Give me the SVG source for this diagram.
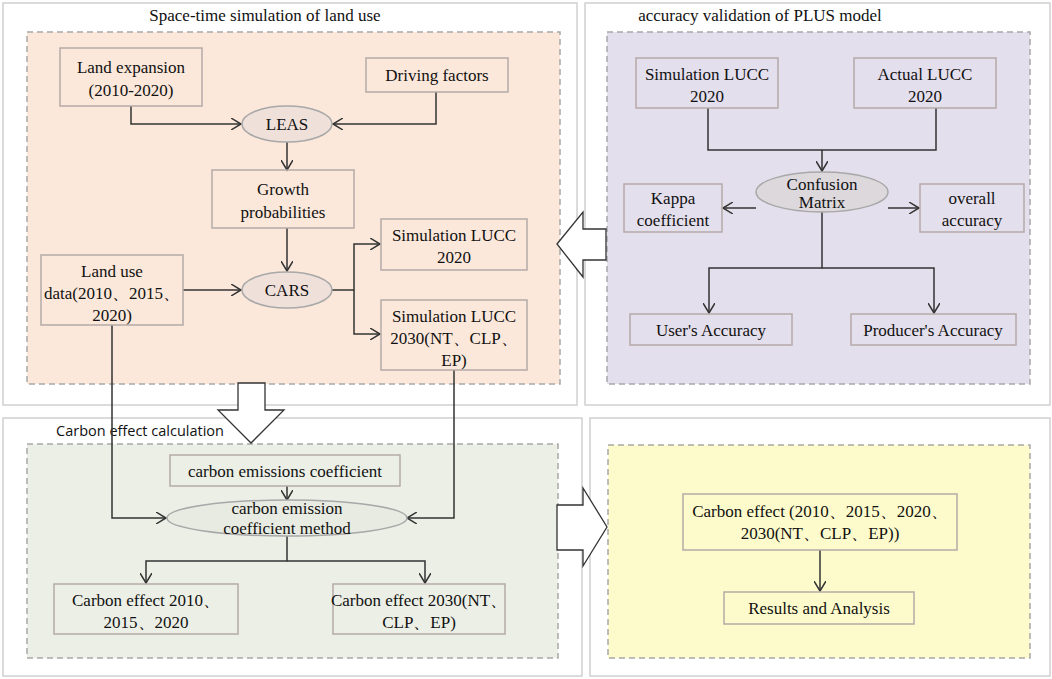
<svg xmlns="http://www.w3.org/2000/svg" width="1052" height="679" viewBox="0 0 1052 679">
<defs>
<style>
.panel{fill:#fff;stroke:#d0d0d0;stroke-width:1.5}
.dash{stroke:#a8a8a8;stroke-width:1.5;stroke-dasharray:6,4}
.n{fill:none;stroke:#b5aaa8;stroke-width:1.5}
.e{stroke:#a8a8a8;stroke-width:1.5}
text{font-family:"Liberation Serif","Times New Roman",serif;font-size:17px;fill:#111;text-anchor:middle}
.c{fill:none;stroke:#333;stroke-width:1.5}
.big{fill:#fff;stroke:#333;stroke-width:1.3}
</style>
<marker id="a" markerWidth="12" markerHeight="12" refX="10" refY="6" orient="auto" markerUnits="userSpaceOnUse"><path d="M0,0 L10,6 L0,12" fill="none" stroke="#333" stroke-width="1.5"/></marker>
</defs>
<rect class="panel" x="3" y="3" width="574" height="402"/>
<rect class="panel" x="585" y="3" width="465" height="402"/>
<rect class="panel" x="3" y="418" width="579" height="258"/>
<rect class="panel" x="590" y="418" width="460" height="258"/>
<rect class="dash" x="27" y="32" width="533" height="352" fill="#fbe8da"/>
<rect class="dash" x="607" y="32" width="423" height="352" fill="#e4dfec"/>
<rect class="dash" x="27" y="444" width="531" height="214" fill="#ecefe6"/>
<rect class="dash" x="608" y="445" width="422" height="213" fill="#fdfbcb"/>
<text x="265" y="21">Space-time simulation of land use</text>
<text x="760" y="21">accuracy validation of PLUS model</text>
<text x="140" y="436" style="font-family:'Open Sans','Liberation Sans',sans-serif;font-size:14.5px">Carbon effect calculation</text>
<g id="connectors">
<path class="c" d="M131,106 V124 H241" marker-end="url(#a)"/>
<path class="c" d="M436,92 V124 H333" marker-end="url(#a)"/>
<path class="c" d="M287,142 V170" marker-end="url(#a)"/>
<path class="c" d="M287,228 V271" marker-end="url(#a)"/>
<path class="c" d="M183,290 H241" marker-end="url(#a)"/>
<path class="c" d="M331,290 H354 V244 H380" marker-end="url(#a)"/>
<path class="c" d="M354,290 V334 H380" marker-end="url(#a)"/>
<path class="c" d="M112,325 V518 H166" marker-end="url(#a)"/>
<path class="c" d="M454,370 V518 H407" marker-end="url(#a)"/>
<path class="c" d="M708,108 V150 H936 V108"/>
<path class="c" d="M822,150 V171" marker-end="url(#a)"/>
<path class="c" d="M756,208 H723" marker-end="url(#a)"/>
<path class="c" d="M888,208 H919" marker-end="url(#a)"/>
<path class="c" d="M822,212 V268 H709 V313" marker-end="url(#a)"/>
<path class="c" d="M822,268 H934 V313" marker-end="url(#a)"/>
<path class="c" d="M287,486 V500" marker-end="url(#a)"/>
<path class="c" d="M287,536 V561 H146 V583" marker-end="url(#a)"/>
<path class="c" d="M287,561 H425 V583" marker-end="url(#a)"/>
<path class="c" d="M820,550 V591" marker-end="url(#a)"/>
<path class="big" d="M557,244 L583,212 V229 H606 V260 H583 V277 Z"/>
<path class="big" d="M238,383 H265 V410 H284 L251,443 L218,410 H238 Z"/>
<path class="big" d="M557,505 H583 V488 L607,527 L583,566 V550 H557 Z"/>
</g>
<g id="landexp"><rect class="n" x="60" y="48" width="142" height="58"/><text x="131" y="73">Land expansion</text><text x="131" y="96">(2010-2020)</text></g>
<g id="driving"><rect class="n" x="366" y="58" width="142" height="34"/><text x="437" y="81">Driving factors</text></g>
<g id="leas"><ellipse class="e" cx="287" cy="124" rx="45" ry="18" fill="#efe0da"/><text x="287" y="130">LEAS</text></g>
<g id="growth"><rect class="n" x="212" y="170" width="142" height="58"/><text x="283" y="195">Growth</text><text x="283" y="218">probabilities</text></g>
<g id="cars"><ellipse class="e" cx="287" cy="290" rx="45" ry="18" fill="#efe0da"/><text x="287" y="296">CARS</text></g>
<g id="landuse"><rect class="n" x="41" y="255" width="142" height="70"/><text x="112" y="277">Land use</text><text x="112" y="299">data(2010、2015、</text><text x="112" y="321">2020)</text></g>
<g id="sim2020"><rect class="n" x="381" y="219" width="146" height="51"/><text x="454" y="241">Simulation LUCC</text><text x="454" y="263">2020</text></g>
<g id="sim2030"><rect class="n" x="381" y="300" width="146" height="70"/><text x="454" y="322">Simulation LUCC</text><text x="454" y="344">2030(NT、CLP、</text><text x="454" y="366">EP)</text></g>
<g id="simr"><rect class="n" x="636" y="58" width="142" height="50"/><text x="707" y="80">Simulation LUCC</text><text x="707" y="102">2020</text></g>
<g id="actual"><rect class="n" x="854" y="58" width="142" height="50"/><text x="925" y="80">Actual LUCC</text><text x="925" y="102">2020</text></g>
<g id="confusion"><ellipse class="e" cx="822" cy="192" rx="66" ry="20" fill="#dcd8dc"/><text x="822" y="190">Confusion</text><text x="822" y="208">Matrix</text></g>
<g id="kappa"><rect class="n" x="624" y="184" width="98" height="48"/><text x="673" y="204">Kappa</text><text x="673" y="226">coefficient</text></g>
<g id="overall"><rect class="n" x="920" y="184" width="104" height="48"/><text x="972" y="204">overall</text><text x="972" y="226">accuracy</text></g>
<g id="users"><rect class="n" x="630" y="314" width="162" height="31"/><text x="711" y="336">User's Accuracy</text></g>
<g id="producers"><rect class="n" x="851" y="314" width="165" height="31"/><text x="933" y="336">Producer's Accuracy</text></g>
<g id="coef"><rect class="n" x="170" y="455" width="230" height="31"/><text x="285" y="477">carbon emissions coefficient</text></g>
<g id="method"><ellipse class="e" cx="287" cy="518" rx="120" ry="18" fill="#e8ebe2"/><text x="287" y="514">carbon emission</text><text x="287" y="534">coefficient method</text></g>
<g id="ce2010"><rect class="n" x="54" y="584" width="184" height="50"/><text x="146" y="606">Carbon effect 2010、</text><text x="146" y="628">2015、2020</text></g>
<g id="ce2030"><rect class="n" x="333" y="584" width="172" height="50"/><text x="419" y="606">Carbon effect 2030(NT、</text><text x="419" y="628">CLP、EP)</text></g>
<g id="ceall"><rect class="n" x="683" y="494" width="274" height="56"/><text x="820" y="517">Carbon effect (2010、2015、2020、</text><text x="820" y="539">2030(NT、CLP、EP))</text></g>
<g id="results"><rect class="n" x="724" y="592" width="190" height="32"/><text x="819" y="614">Results and Analysis</text></g>
</svg>
